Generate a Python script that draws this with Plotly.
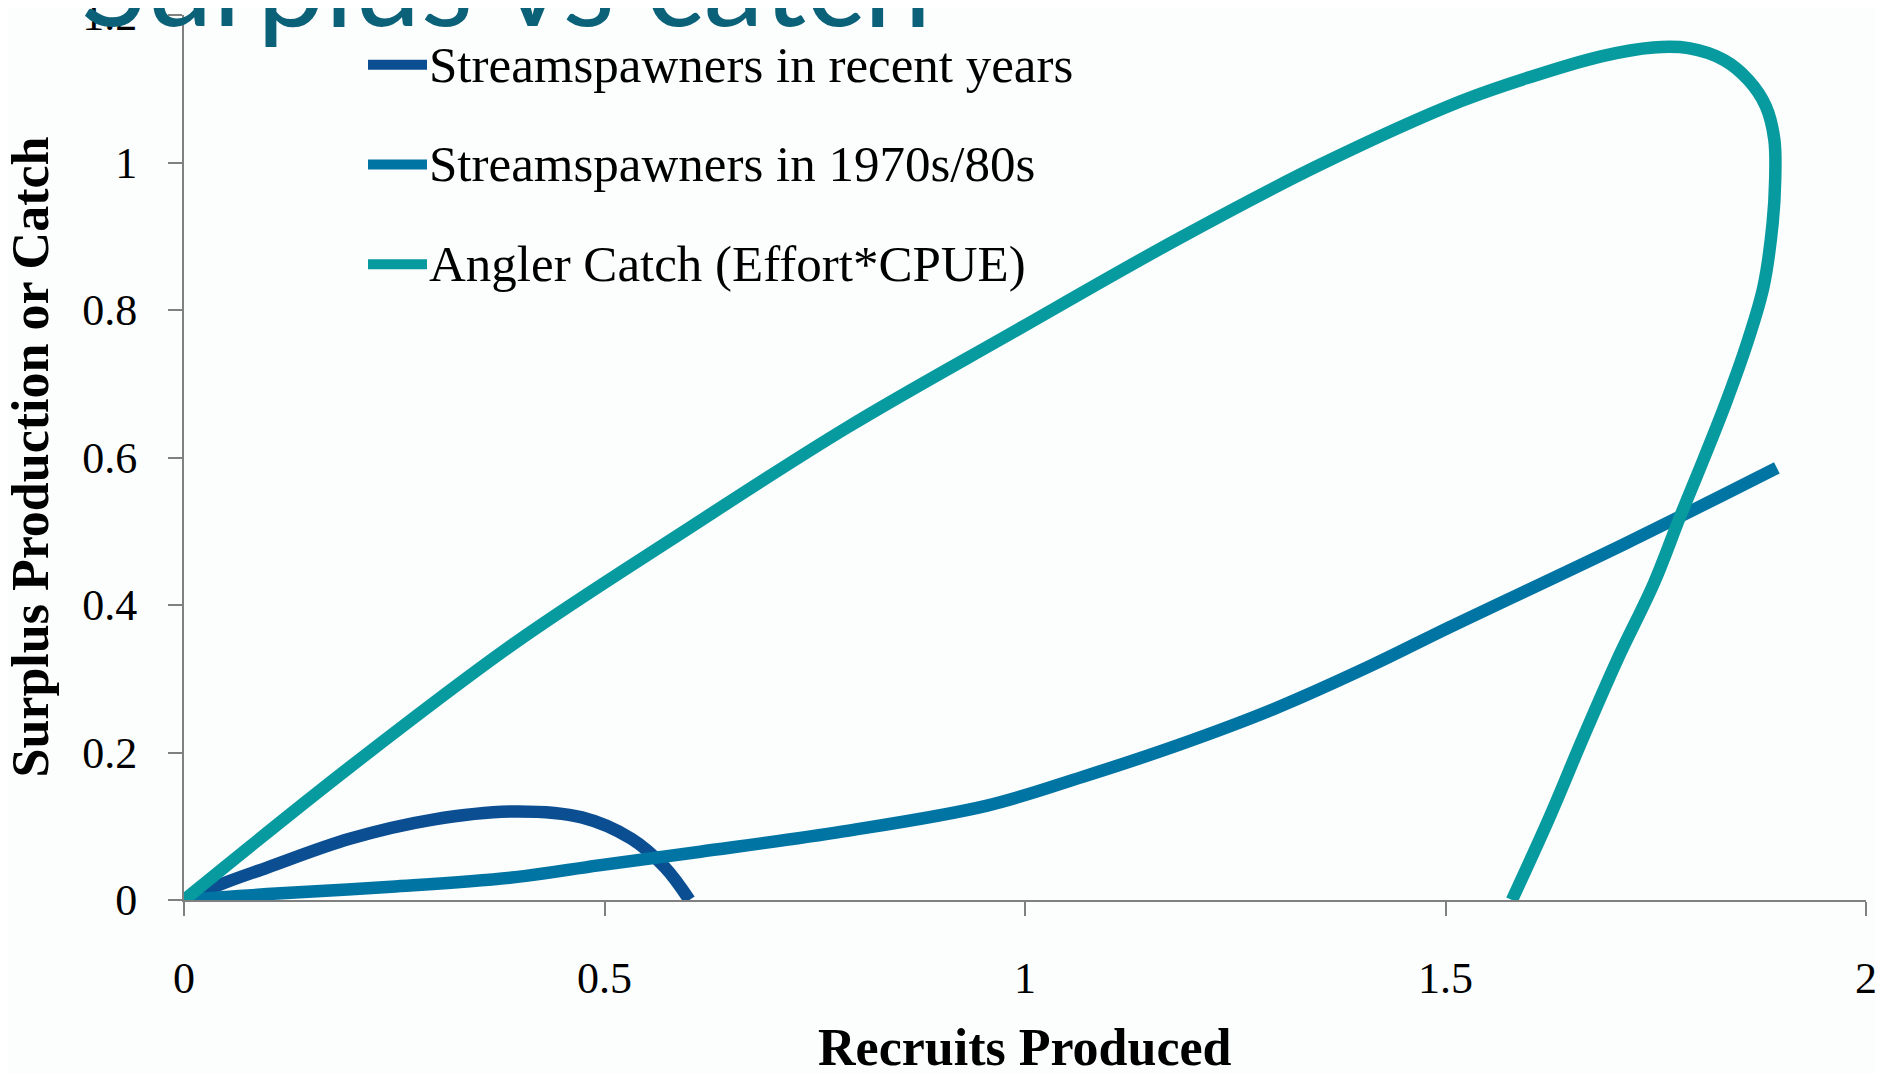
import plotly.graph_objects as go

# Surplus production curves (recruits produced vs surplus)
recent_x = [0, 0.05, 0.099, 0.197, 0.296, 0.394, 0.473, 0.532, 0.572, 0.601]
recent_y = [0, 0.024, 0.044, 0.083, 0.109, 0.120, 0.112, 0.083, 0.044, 0]

old_x = [0, 0.05, 0.099, 0.2465, 0.394, 0.493, 0.614, 0.784, 0.955, 1.0685,
         1.182, 1.296, 1.410, 1.505, 1.715, 1.894]
old_y = [0, 0.004, 0.008, 0.018, 0.031, 0.047, 0.0655, 0.093, 0.128, 0.167,
         0.210, 0.259, 0.317, 0.370, 0.484, 0.586]

# Angler catch loops back on itself at high recruitment
angler_x = [0, 0.197, 0.394, 0.592, 0.789, 0.986, 1.183, 1.351, 1.518, 1.601,
            1.685, 1.747, 1.789, 1.831, 1.860, 1.881, 1.891, 1.892, 1.889, 1.878,
            1.858, 1.834, 1.807, 1.779, 1.748, 1.704, 1.664, 1.624, 1.579]
angler_y = [0, 0.180, 0.349, 0.498, 0.641, 0.770, 0.897, 0.997, 1.083, 1.116,
            1.144, 1.156, 1.155, 1.139, 1.112, 1.076, 1.031, 0.976, 0.918, 0.831,
            0.753, 0.676, 0.598, 0.520, 0.430, 0.325, 0.221, 0.113, 0]

y_ticks = [0, 0.2, 0.4, 0.6, 0.8, 1, 1.2]
y_labels = ["0", "0.2", "0.4", "0.6", "0.8", "1", "1.2"]
x_ticks = [0, 0.5, 1, 1.5, 2]
x_labels = ["0", "0.5", "1", "1.5", "2"]

series = [
    ("Streamspawners in recent years", recent_x, recent_y, "#0b4f92"),
    ("Streamspawners in 1970s/80s", old_x, old_y, "#0074a2"),
    ("Angler Catch (Effort*CPUE)", angler_x, angler_y, "#079b9f"),
]

serif = "Liberation Serif"

# plot box in figure pixels (page has an 8px body margin)
L, T, W, H = 176, 7, 1682, 885

fig = go.Figure()
for name, xs, ys, col in series:
    fig.add_trace(go.Scatter(
        x=xs, y=ys, name=name, mode="lines", showlegend=False,
        line=dict(color=col, width=12.5, shape="spline", smoothing=1.0),
    ))

axis_common = dict(
    showline=True, linecolor="#808080", linewidth=2,
    ticks="outside", ticklen=14, tickwidth=2, tickcolor="#808080",
    showgrid=False, zeroline=False, tickmode="array",
    ticklabeloverflow="allow", automargin=False,
    tickfont=dict(family=serif, size=44, color="#000000"),
)

# hand-built legend: long thick swatches like the slide
shapes, annotations = [], []
legend_rows = [56.8, 156.5, 256.2]
for (name, _, _, col), ry in zip(series, legend_rows):
    py = 1 - (ry - T) / H
    shapes.append(dict(type="line", xref="paper", yref="paper",
                       x0=(360 - L) / W, x1=(419 - L) / W, y0=py, y1=py,
                       line=dict(color=col, width=10)))
    annotations.append(dict(text=name, xref="paper", yref="paper",
                            x=(419 - L) / W, y=py, xanchor="left", yanchor="middle",
                            showarrow=False,
                            font=dict(family=serif, size=51, color="#000000")))

annotations += [
    dict(text="Surplus vs catch", xref="paper", yref="paper",
         x=(71 - L) / W, y=1.040, xanchor="left", yanchor="middle",
         showarrow=False, font=dict(family="Lato", size=121, color="#0a6178")),
    dict(text="<b>Recruits Produced</b>", xref="paper", yref="paper",
         x=0.5, y=-0.167, xanchor="center", yanchor="middle", showarrow=False,
         font=dict(family=serif, size=52, color="#000000")),
    dict(text="<b>Surplus Production or Catch</b>", xref="paper", yref="paper",
         x=(22 - L) / W, y=0.5, xanchor="center", yanchor="middle",
         textangle=-90, showarrow=False,
         font=dict(family=serif, size=52, color="#000000")),
]

fig.update_layout(
    width=1883, height=1074,
    margin=dict(l=L, r=1883 - L - W, t=T, b=1074 - T - H),
    paper_bgcolor="#fcfdfd", plot_bgcolor="rgba(0,0,0,0)",
    xaxis=dict(range=[0, 2], tickvals=x_ticks, ticktext=x_labels,
               ticklabelstandoff=24, **axis_common),
    yaxis=dict(range=[0, 1.2], tickvals=y_ticks, ticktext=y_labels,
               ticklabelstandoff=22, **axis_common),
    shapes=shapes,
    annotations=annotations,
)

fig.write_html("out.html")
